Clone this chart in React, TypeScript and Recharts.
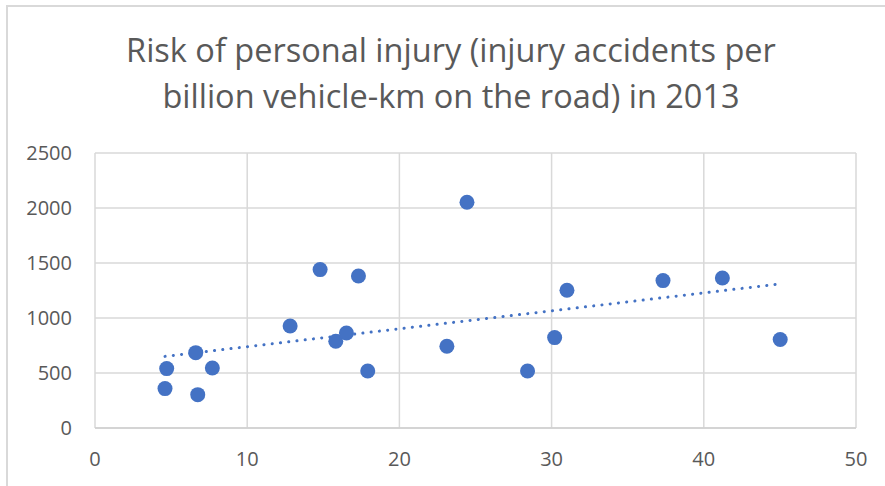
import React from "react";
import {
  CartesianGrid,
  Scatter,
  ScatterChart,
  XAxis,
  YAxis,
} from "recharts";

// vehicle-km (billion) on the road, per point
const xValues = [
  4.6, 4.71, 6.62, 6.75, 7.71, 12.82, 14.79, 17.31, 15.82, 16.52, 17.92, 23.12,
  24.44, 28.42, 30.2, 31.01, 37.32, 41.22, 45.02,
];
// injury accidents per billion vehicle-km
const yValues = [
  358, 540, 685, 303, 545, 927, 1440, 1382, 788, 864, 518, 743, 2052, 518, 822,
  1252, 1340, 1364, 804,
];
const xTicks = [0, 10, 20, 30, 40, 50];
const yTicks = [0, 500, 1000, 1500, 2000, 2500];

const title = [
  "Risk of personal injury (injury accidents per",
  "billion vehicle-km on the road) in 2013",
];

const BLUE = "#4472C4";
const GRID = "#d9d9d9";
const TEXT = "#595959";
const FONT = "'Open Sans', sans-serif";

const points = xValues.map((x, i) => ({ x, y: yValues[i] }));

// linear trendline (least squares), spanning the data's x range like Excel
function trend(data: { x: number; y: number }[]) {
  const n = data.length;
  const mx = data.reduce((s, p) => s + p.x, 0) / n;
  const my = data.reduce((s, p) => s + p.y, 0) / n;
  let sxy = 0;
  let sxx = 0;
  data.forEach((p) => {
    sxy += (p.x - mx) * (p.y - my);
    sxx += (p.x - mx) * (p.x - mx);
  });
  const slope = sxy / sxx;
  const icpt = my - slope * mx;
  const lo = Math.min(...data.map((p) => p.x));
  const hi = Math.max(...data.map((p) => p.x));
  return [
    { x: lo, y: icpt + slope * lo },
    { x: hi, y: icpt + slope * hi },
  ];
}

const trendData = trend(points);

const Dot = (props: any) => (
  <circle cx={props.cx} cy={props.cy} r={7.5} fill={BLUE} />
);

export default function App() {
  return (
    <div
      style={{
        position: "absolute",
        left: 0,
        top: 0,
        width: 885,
        height: 486,
        background: "#fff",
        overflow: "hidden",
      }}
    >
      <div
        style={{
          position: "absolute",
          left: 6,
          top: 5,
          width: 900,
          height: 500,
          borderLeft: `2px solid ${GRID}`,
          borderTop: `2px solid ${GRID}`,
        }}
      />
      <div
        style={{
          position: "absolute",
          left: 0,
          top: 27,
          width: 902,
          textAlign: "center",
          fontFamily: FONT,
          fontSize: 32.5,
          lineHeight: "46px",
          color: TEXT,
        }}
      >
        {title.map((t) => (
          <div key={t}>{t}</div>
        ))}
      </div>
      <ScatterChart
        width={885}
        height={486}
        margin={{ top: 153, right: 29, bottom: 28, left: 35 }}
        style={{ position: "absolute", left: 0, top: 0 }}
      >
        <CartesianGrid stroke={GRID} strokeWidth={1.5} />
        <XAxis
          type="number"
          dataKey="x"
          domain={[0, 50]}
          ticks={xTicks}
          height={30}
          tickLine={false}
          axisLine={{ stroke: "#cfcfcf", strokeWidth: 1.5 }}
          tickMargin={18}
          tick={{ fill: TEXT, fontSize: 20, fontFamily: FONT }}
        />
        <YAxis
          type="number"
          dataKey="y"
          domain={[0, 2500]}
          ticks={yTicks}
          width={60}
          tickLine={false}
          axisLine={false}
          tickMargin={17}
          tick={{ fill: TEXT, fontSize: 20, fontFamily: FONT }}
        />
        <Scatter
          data={trendData}
          line={{
            stroke: BLUE,
            strokeWidth: 3,
            strokeDasharray: "0.1 8.2",
            strokeLinecap: "round",
          }}
          shape={() => <g />}
          isAnimationActive={false}
        />
        <Scatter data={points} shape={Dot} isAnimationActive={false} />
      </ScatterChart>
    </div>
  );
}
